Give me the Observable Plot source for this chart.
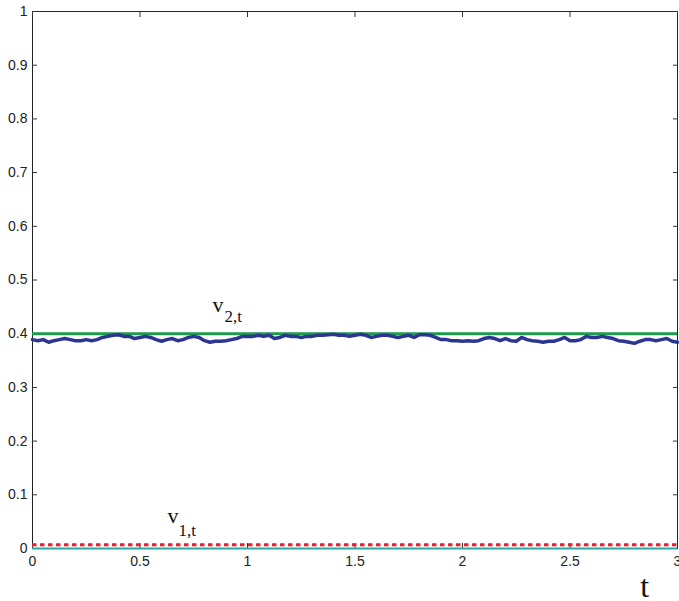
<!DOCTYPE html>
<html>
<head>
<meta charset="utf-8">
<script src="https://cdn.jsdelivr.net/npm/d3@7"></script>
<script src="https://cdn.jsdelivr.net/npm/@observablehq/plot@0.6"></script>
<style>
  html, body { margin: 0; padding: 0; background: #fff; }
</style>
</head>
<body>
<div id="chart"></div>
<script>
// time grid (t) and the noisy estimate of v2
const tValues = [
  0.000,0.025,0.050,0.075,0.100,0.125,0.150,0.175,0.200,0.225,
  0.250,0.275,0.300,0.325,0.350,0.375,0.400,0.425,0.450,0.475,
  0.500,0.525,0.550,0.575,0.600,0.625,0.650,0.675,0.700,0.725,
  0.750,0.775,0.800,0.825,0.850,0.875,0.900,0.925,0.950,0.975,
  1.000,1.025,1.050,1.075,1.100,1.125,1.150,1.175,1.200,1.225,
  1.250,1.275,1.300,1.325,1.350,1.375,1.400,1.425,1.450,1.475,
  1.500,1.525,1.550,1.575,1.600,1.625,1.650,1.675,1.700,1.725,
  1.750,1.775,1.800,1.825,1.850,1.875,1.900,1.925,1.950,1.975,
  2.000,2.025,2.050,2.075,2.100,2.125,2.150,2.175,2.200,2.225,
  2.250,2.275,2.300,2.325,2.350,2.375,2.400,2.425,2.450,2.475,
  2.500,2.525,2.550,2.575,2.600,2.625,2.650,2.675,2.700,2.725,
  2.750,2.775,2.800,2.825,2.850,2.875,2.900,2.925,2.950,2.975,
  3.000
];
const v2Estimate = [
  0.389,0.387,0.389,0.384,0.387,0.389,0.391,0.389,0.387,0.387,
  0.389,0.387,0.389,0.393,0.395,0.397,0.398,0.395,0.395,0.391,
  0.393,0.395,0.393,0.389,0.386,0.389,0.391,0.387,0.389,0.393,
  0.395,0.393,0.387,0.384,0.386,0.386,0.387,0.389,0.391,0.395,
  0.395,0.395,0.397,0.395,0.397,0.391,0.393,0.397,0.395,0.395,
  0.393,0.395,0.395,0.397,0.397,0.398,0.399,0.397,0.397,0.395,
  0.397,0.399,0.397,0.393,0.395,0.397,0.397,0.395,0.393,0.395,
  0.397,0.393,0.398,0.398,0.397,0.393,0.389,0.389,0.387,0.387,
  0.386,0.387,0.386,0.387,0.391,0.393,0.391,0.387,0.391,0.387,
  0.386,0.393,0.389,0.387,0.386,0.384,0.386,0.386,0.389,0.393,
  0.387,0.387,0.389,0.395,0.393,0.393,0.395,0.393,0.391,0.387,
  0.386,0.384,0.382,0.386,0.389,0.389,0.387,0.389,0.391,0.386,
  0.384
];
// constant levels
const v2Level = [0.4];
const v1Level = [0.007];
const zeroLevel = [0];

// tick values
const xTicks = [0, 0.5, 1, 1.5, 2, 2.5, 3];
const yTicks = [0, 0.1, 0.2, 0.3, 0.4, 0.5, 0.6, 0.7, 0.8, 0.9, 1];

// labels
const v2Label = {base: "v", sub: "2,t", t: 0.837, y: 0.4395, tSub: 0.893, ySub: 0.4209};
const v1Label = {base: "v", sub: "1,t", t: 0.628, y: 0.0466, tSub: 0.679, ySub: 0.0242};
const xLabel = {text: "t", t: 2.847};

const series = tValues.map((t, i) => ({t, v: v2Estimate[i]}));
const fmt = d => String(d);

const chart = Plot.plot({
  width: 679,
  height: 601,
  marginLeft: 32,
  marginRight: 2,
  marginTop: 11,
  marginBottom: 53,
  style: {fontFamily: "'Liberation Sans', Arial, sans-serif", fontSize: "14px", background: "#fff", color: "#222"},
  x: {domain: [0, 3]},
  y: {domain: [0, 1]},
  marks: [
    Plot.frame({stroke: "#222", strokeWidth: 1}),
    Plot.axisX({anchor: "bottom", ticks: xTicks, tickSize: -5, tickPadding: 13, tickFormat: fmt, label: null, stroke: "#333"}),
    Plot.axisX({anchor: "top", ticks: xTicks, tickSize: -5, tickFormat: () => "", label: null, stroke: "#333"}),
    Plot.axisY({anchor: "left", ticks: yTicks, tickSize: -5, tickPadding: 10, tickFormat: fmt, label: null, stroke: "#333"}),
    Plot.axisY({anchor: "right", ticks: yTicks, tickSize: -5, tickFormat: () => "", label: null, stroke: "#333"}),
    Plot.ruleY(v1Level, {stroke: "#e8202a", strokeWidth: 3, strokeDasharray: "4.5,3.5"}),
    Plot.ruleY(zeroLevel, {stroke: "#2aa9a6", strokeWidth: 2}),
    Plot.ruleY(v2Level, {stroke: "#1e9a4c", strokeWidth: 3}),
    Plot.line(series, {x: "t", y: "v", stroke: "#2c3592", strokeWidth: 3.5}),
    Plot.text([v2Label], {x: "t", y: "y", text: "base", textAnchor: "start", lineAnchor: "bottom", fontFamily: "'Liberation Serif', 'Times New Roman', serif", fontSize: 22, fill: "#111"}),
    Plot.text([v2Label], {x: "tSub", y: "ySub", text: "sub", textAnchor: "start", lineAnchor: "bottom", fontFamily: "'Liberation Serif', 'Times New Roman', serif", fontSize: 17, fill: "#111"}),
    Plot.text([v1Label], {x: "t", y: "y", text: "base", textAnchor: "start", lineAnchor: "bottom", fontFamily: "'Liberation Serif', 'Times New Roman', serif", fontSize: 22, fill: "#111"}),
    Plot.text([v1Label], {x: "tSub", y: "ySub", text: "sub", textAnchor: "start", lineAnchor: "bottom", fontFamily: "'Liberation Serif', 'Times New Roman', serif", fontSize: 17, fill: "#111"}),
    Plot.text([xLabel], {x: "t", y: () => 0, text: "text", textAnchor: "middle", lineAnchor: "bottom", dy: 48, fontFamily: "'Liberation Serif', 'Times New Roman', serif", fontSize: 32, fill: "#111"})
  ]
});
document.getElementById("chart").appendChild(chart);
</script>
</body>
</html>
